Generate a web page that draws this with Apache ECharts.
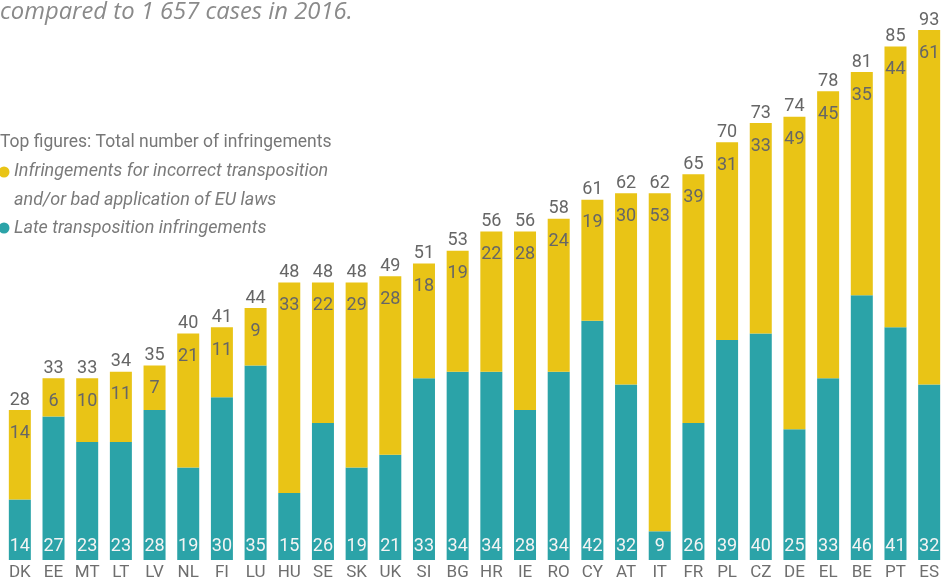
<!DOCTYPE html>
<html>
<head>
<meta charset="utf-8">
<script src="https://cdn.jsdelivr.net/npm/echarts@6/dist/echarts.min.js"></script>
<style>
  html, body { margin: 0; padding: 0; background: #fff; }
  #main { width: 946px; height: 586px; }
</style>
</head>
<body>
<div id="main"></div>
<script>
// values
var countries = ['DK', 'EE', 'MT', 'LT', 'LV', 'NL', 'FI', 'LU', 'HU', 'SE', 'SK', 'UK', 'SI', 'BG',
  'HR', 'IE', 'RO', 'CY', 'AT', 'IT', 'FR', 'PL', 'CZ', 'DE', 'EL', 'BE', 'PT', 'ES'];
var lateValues = [14, 27, 23, 23, 28, 19, 30, 35, 15, 26, 19, 21, 33, 34,
  34, 28, 34, 42, 32, 9, 26, 39, 40, 25, 33, 46, 41, 32];
var incorrectValues = [14, 6, 10, 11, 7, 21, 11, 9, 33, 22, 29, 28, 18, 19,
  22, 28, 24, 19, 30, 53, 39, 31, 33, 49, 45, 35, 44, 61];
var totals = [28, 33, 33, 34, 35, 40, 41, 44, 48, 48, 48, 49, 51, 53,
  56, 56, 58, 61, 62, 62, 65, 70, 73, 74, 78, 81, 85, 93];

var TEAL = '#2ba3a8';
var YELLOW = '#e9c416';
var FONT = 'Roboto, "Noto Sans", sans-serif';

var myChart = echarts.init(document.getElementById('main'));

var option = {
  animation: false,
  grid: {
    left: 3,
    top: 30,
    width: 952,
    bottom: 26
  },
  xAxis: {
    type: 'category',
    data: countries,
    axisLine: { show: false },
    axisTick: { show: false },
    axisLabel: {
      color: '#6e6e6e',
      fontSize: 17,
      fontFamily: FONT,
      margin: 4,
      interval: 0
    }
  },
  yAxis: {
    type: 'value',
    // bars in the source start a bit above zero, ES is cut at the top
    min: 4.5,
    max: 87.6,
    show: false,
    splitLine: { show: false }
  },
  graphic: [
    {
      type: 'text', left: 0, top: 0,
      style: { text: 'compared to 1 657 cases in 2016.', fill: '#8a8a8a',
        font: 'italic 23.8px "Open Sans", sans-serif' }
    },
    {
      type: 'text', left: 0, top: 134,
      style: { text: 'Top figures: Total number of infringements', fill: '#777',
        font: '17.5px ' + FONT }
    },
    { type: 'circle', shape: { cx: 4, cy: 172, r: 5.5 }, style: { fill: YELLOW } },
    {
      type: 'text', left: 14, top: 162,
      style: { text: 'Infringements for incorrect transposition', fill: '#7a7a7a',
        font: 'italic 18px ' + FONT }
    },
    {
      type: 'text', left: 14, top: 191,
      style: { text: 'and/or bad application of EU laws', fill: '#7a7a7a',
        font: 'italic 18px ' + FONT }
    },
    { type: 'circle', shape: { cx: 4, cy: 228, r: 5.5 }, style: { fill: TEAL } },
    {
      type: 'text', left: 14, top: 219,
      style: { text: 'Late transposition infringements', fill: '#7a7a7a',
        font: 'italic 18px ' + FONT }
    }
  ],
  series: [
    {
      name: 'Late transposition infringements',
      type: 'bar',
      stack: 'all',
      barWidth: 22,
      data: lateValues,
      itemStyle: { color: TEAL },
      label: {
        show: true,
        position: 'insideBottom',
        distance: 5,
        color: '#f4f4f4',
        fontSize: 18,
        fontFamily: FONT
      }
    },
    {
      name: 'Infringements for incorrect transposition and/or bad application of EU laws',
      type: 'bar',
      stack: 'all',
      barWidth: 22,
      data: incorrectValues,
      itemStyle: { color: YELLOW },
      label: {
        show: true,
        position: 'insideTop',
        distance: 14,
        color: '#666',
        fontSize: 18,
        fontFamily: FONT
      }
    },
    {
      // transparent overlay only used to place the totals
      name: 'total',
      type: 'bar',
      barWidth: 22,
      barGap: '-100%',
      data: totals,
      itemStyle: { color: 'rgba(0,0,0,0)' },
      silent: true,
      z: 1,
      label: {
        show: true,
        position: 'top',
        distance: 1,
        color: '#666',
        fontSize: 18,
        fontFamily: FONT
      }
    }
  ]
};

myChart.setOption(option);
</script>
</body>
</html>
